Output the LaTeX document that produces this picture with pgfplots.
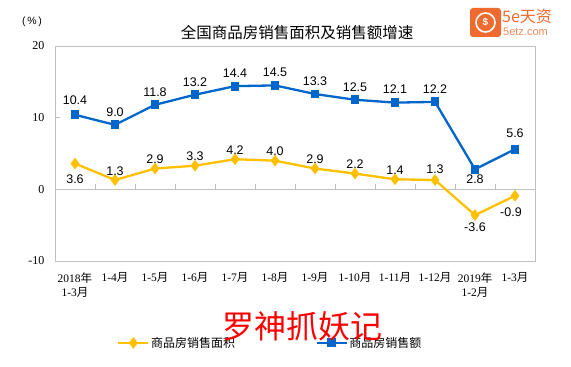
\documentclass[border=0pt]{standalone}
\usepackage{fontspec}
\setmainfont{Liberation Serif}
\newfontfamily\cjk{Noto Sans CJK SC}
\newfontfamily\arial{Liberation Sans}
\usepackage{pgfplots}
\pgfplotsset{compat=1.18}
\definecolor{cyel}{HTML}{FFC000}
\definecolor{cblue}{HTML}{0066CC}
\definecolor{cframe}{HTML}{BFBFBF}
\definecolor{corange}{HTML}{EE6A2E}
\newcommand{\yue}{{\cjk 月}}
\newcommand{\nian}{{\cjk 年}}
\pgfplotsset{
  lb/.style 2 args={
    draw=none, mark=none, forget plot,
    nodes near coords={\pgfmathprintnumber[fixed,fixed zerofill,precision=1]{\pgfplotspointmeta}},
    nodes near coords style={font=\arial\fontsize{12.5}{14}\selectfont, anchor=center, text=black},
    every node near coord/.append style={yshift=#1, xshift=#2},
  }
}
\begin{document}
\begin{tikzpicture}[x=1pt,y=1pt]
\path[use as bounding box] (-55,-106) rectangle (516,261);
\begin{axis}[
  at={(0,0)}, anchor=south west,
  scale only axis, width=480pt, height=215pt,
  xmin=-0.5, xmax=11.5, ymin=-10, ymax=20,
  axis line style={cframe, line width=0.8pt},
  ytick={-10,0,10,20},
  ytick pos=left,
  xtick={0,...,11},
  xticklabels={{2018\nian\\1-3\yue},{1-4\yue},{1-5\yue},{1-6\yue},{1-7\yue},{1-8\yue},{1-9\yue},{1-10\yue},{1-11\yue},{1-12\yue},{2019\nian\\1-2\yue},{1-3\yue}},
  xticklabel style={align=center, font=\fontsize{11.5}{14.5}\selectfont, anchor=north, yshift=-8pt},
  x tick style={draw=none},
  y tick style={cframe, line width=0.8pt},
  major tick length=5pt,
  tick align=inside,
  yticklabel style={font=\fontsize{12}{14}\selectfont, anchor=east, xshift=-7pt},
  /pgf/number format/assume math mode=true,
  clip=false,
  legend style={draw=none, fill=none, at={(axis description cs:0.123,-0.381)}, anchor=west,
    font=\cjk\fontsize{12}{14}\selectfont, legend columns=2,
    /tikz/every even column/.append style={column sep=79pt},
    nodes={inner sep=1.5pt}},
  legend image code/.code={\draw[mark repeat=2,mark phase=2,#1] plot coordinates {(0pt,0pt) (15pt,0pt) (30pt,0pt)};},
]
\draw[cframe, line width=0.8pt] (axis cs:-0.5,0) -- (axis cs:11.5,0);
\foreach \tk in {0.5,1.5,2.5,3.5,4.5,5.5,6.5,7.5,8.5,9.5,10.5}{
  \edef\temp{\noexpand\draw[cframe, line width=0.8pt] (axis cs:\tk,0) -- (axis cs:\tk,0.7);}
  \temp
}
% 商品房销售面积 (yellow)
\addplot[cyel, line width=2.3pt, mark=diamond*, mark size=4pt, mark options={solid}] coordinates {
 (0,3.6) (1,1.3) (2,2.9) (3,3.3) (4,4.2) (5,4.0) (6,2.9) (7,2.2) (8,1.4) (9,1.3) (10,-3.6) (11,-0.9)};
\addlegendentry{商品房销售面积}
% 商品房销售额 (blue)
\addplot[cblue, line width=2.3pt, mark=square*, mark size=3.3pt, mark options={solid}] coordinates {
 (0,10.4) (1,9.0) (2,11.8) (3,13.2) (4,14.4) (5,14.5) (6,13.3) (7,12.5) (8,12.1) (9,12.2) (10,2.8) (11,5.6)};
\addlegendentry{商品房销售额}
% data labels
\addplot[lb={9pt}{0pt}] coordinates {(1,1.3) (2,2.9) (3,3.3) (4,4.2) (5,4.0) (6,2.9) (7,2.2) (8,1.4)};
\addplot[lb={11pt}{0pt}] coordinates {(9,1.3)};
\addplot[lb={-16pt}{0pt}] coordinates {(0,3.6)};
\addplot[lb={-12pt}{0pt}] coordinates {(10,-3.6)};
\addplot[lb={-16pt}{-4pt}] coordinates {(11,-0.9)};
\addplot[lb={13pt}{0pt}] coordinates {(1,9.0) (2,11.8) (3,13.2) (4,14.4) (5,14.5) (6,13.3) (7,12.5) (8,12.1) (9,12.2)};
\addplot[lb={15pt}{0pt}] coordinates {(0,10.4)};
\addplot[lb={16pt}{0pt}] coordinates {(11,5.6)};
\addplot[lb={-10pt}{0pt}] coordinates {(10,2.8)};
\end{axis}
% title and unit
\node[font=\cjk\fontsize{15.5}{17}\selectfont] at (242,228) {全国商品房销售面积及销售额增速};
\node[font=\arial\fontsize{10.5}{12}\selectfont] at (-23,239) {(\,\%\,)};
% logo
\fill[corange, rounded corners=3pt] (415,224) rectangle (446,253);
\draw[white, line width=1.6pt] (430.5,238.5) circle (9.5pt);
\node[font=\arial\bfseries\fontsize{10}{10}\selectfont, text=white] at (430.5,238.5) {\$};
\node[font=\cjk\fontsize{16}{16}\selectfont, text=corange, anchor=west, inner sep=0pt] at (447,245) {5e天资};
\node[font=\arial\fontsize{11}{11}\selectfont, text=corange!80, anchor=west, inner sep=0pt] at (448,229) {5etz.com};
% watermark
\node[font=\cjk\fontsize{32}{34}\selectfont, text=red] at (247,-65) {罗神抓妖记};
\end{tikzpicture}
\end{document}
